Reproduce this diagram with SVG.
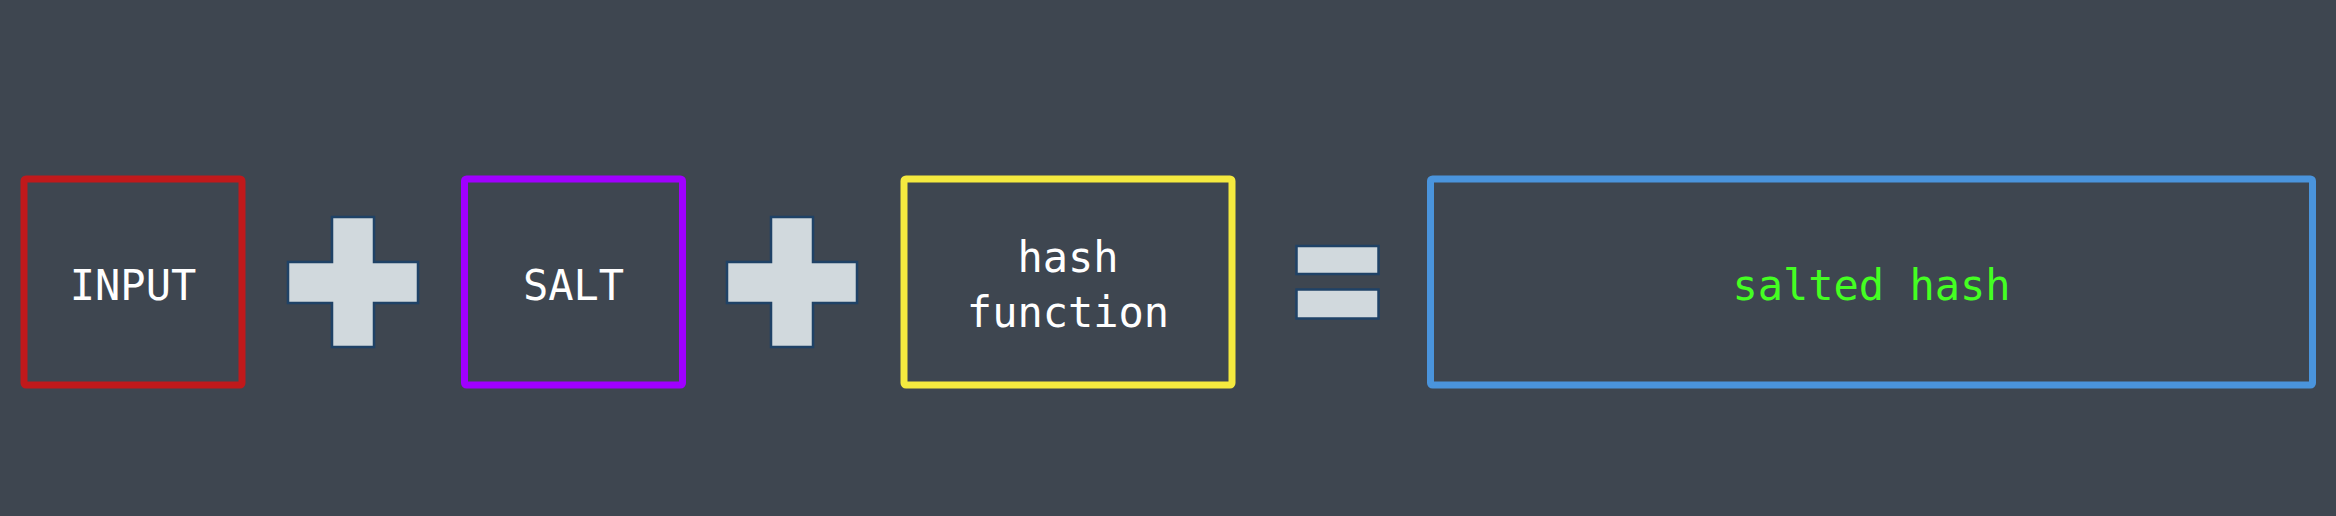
<svg xmlns="http://www.w3.org/2000/svg" xmlns:xlink="http://www.w3.org/1999/xlink" width="2336" height="516" viewBox="0 0 2336 516">
  <style>
    .box { fill: none; stroke-width: 7; }
    .op { fill: #d1d9dd; stroke: #1f4266; stroke-width: 2.5; }
    .lbl { font-family: "DejaVu Sans Mono", "Liberation Mono", monospace; font-size: 42px; fill: #ffffff; text-anchor: middle; }
  </style>
  <defs>
    <path id="plus" d="M332,217 H374 V262 H418 V303 H374 V347 H332 V303 H288 V262 H332 Z"/>
  </defs>
  <rect width="2336" height="516" fill="#3e4650"/>
  <g id="input">
    <rect class="box" x="24" y="179" width="218" height="206" rx="2" stroke="#c0191b"/>
    <text class="lbl" x="133" y="300">INPUT</text>
  </g>
  <g id="plus1">
    <use xlink:href="#plus" class="op"/>
  </g>
  <g id="salt">
    <rect class="box" x="464.5" y="179" width="218" height="206" rx="2" stroke="#a000ff"/>
    <text class="lbl" x="573.5" y="300">SALT</text>
  </g>
  <g id="plus2">
    <use xlink:href="#plus" class="op" transform="translate(439,0)"/>
  </g>
  <g id="hashfn">
    <rect class="box" x="904" y="179" width="328" height="206" rx="2" stroke="#f5ea3f"/>
    <text class="lbl" x="1068" y="272">hash</text>
    <text class="lbl" x="1068" y="327">function</text>
  </g>
  <g id="equals">
    <rect class="op" x="1296.5" y="246" width="82" height="28"/>
    <rect class="op" x="1296.5" y="289.5" width="82" height="29"/>
  </g>
  <g id="salted">
    <rect class="box" x="1430.5" y="179" width="882" height="206" rx="2" stroke="#4a94dc"/>
    <text class="lbl" x="1871.5" y="300" fill="#44ff22" style="fill:#44ff22">salted hash</text>
  </g>
  <g id="connectors"/>
</svg>
